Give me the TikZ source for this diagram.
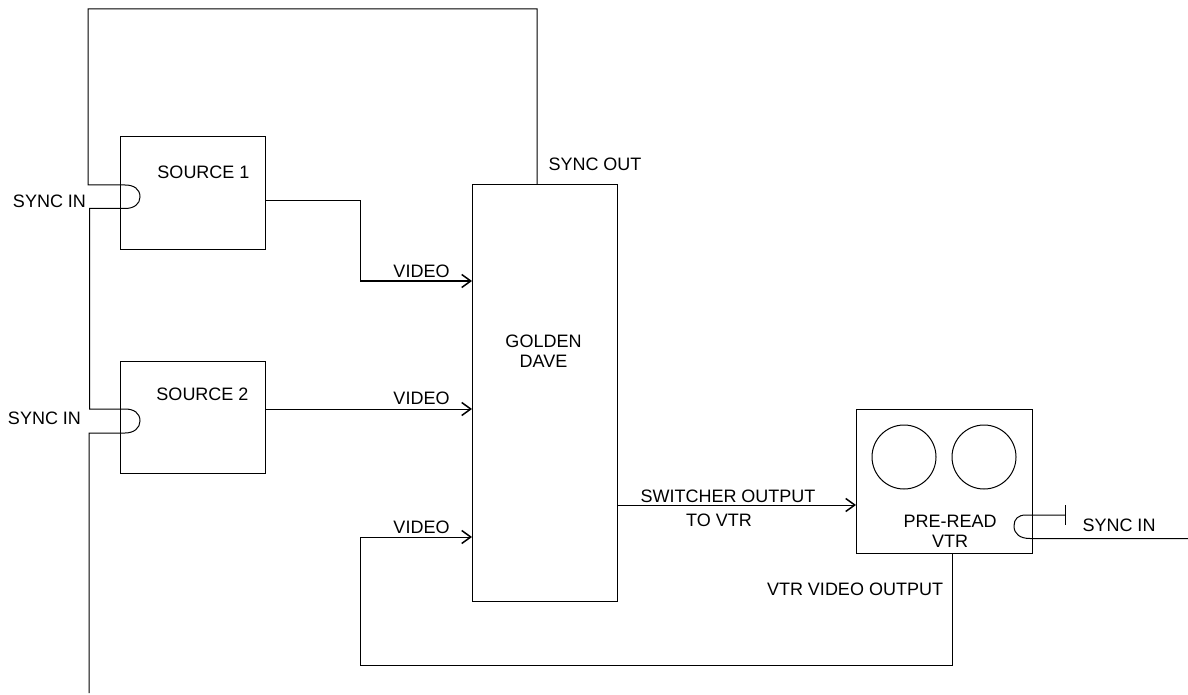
\documentclass[tikz,border=0pt]{standalone}
\usepackage{fontspec}
\setmainfont{Liberation Sans}
\usetikzlibrary{arrows.meta}
\tikzset{
  box/.style={draw=black,line width=1pt,fill=none,inner sep=0pt,outer sep=0pt},
  lbl/.style={font=\fontsize{18pt}{20pt}\selectfont,inner sep=0pt,outer sep=0pt,text=black},
  conn/.style={draw=black,line width=1pt,line join=miter},
  arr/.style={conn,-{Straight Barb[length=9pt,width=13pt,line width=1.5pt]}}
}
\begin{document}
\begin{tikzpicture}[x=1pt,y=-1pt]
\useasboundingbox (0,0) rectangle (1188,695);
% boxes
\node[box,minimum width=144.5pt,minimum height=112pt] (s1) at (192.75,193) {};
\node[box,minimum width=144.5pt,minimum height=112pt] (s2) at (192.75,417) {};
\node[box,minimum width=145pt,minimum height=416pt] (gd) at (544.5,393) {};
\node[box,minimum width=176pt,minimum height=144pt] (vtr) at (944,481) {};
\node[draw=black,line width=1pt,circle,minimum size=64pt,inner sep=0pt,outer sep=0pt] (r1) at (904,457) {};
\node[draw=black,line width=1pt,circle,minimum size=64pt,inner sep=0pt,outer sep=0pt] (r2) at (984,457) {};
% labels
\node[lbl] (t1) at (203.5,172) {SOURCE 1};
\node[lbl] (t2) at (202.5,394.5) {SOURCE 2};
\node[lbl,align=center] (t3) at (543.5,351) {GOLDEN\\[0pt]DAVE};
\node[lbl,align=center] (t4) at (950,531) {PRE-READ\\[0pt]VTR};
\node[lbl] (si1) at (49.5,201) {SYNC IN};
\node[lbl] (si2) at (44.5,418) {SYNC IN};
\node[lbl] (si3) at (1119,525) {SYNC IN};
\node[lbl] (so) at (595,164) {SYNC OUT};
\node[lbl] (v1) at (421.5,271) {VIDEO};
\node[lbl] (v2) at (421.5,398.5) {VIDEO};
\node[lbl] (v3) at (421.5,527) {VIDEO};
\node[lbl] (sw) at (728,496.5) {SWITCHER OUTPUT};
\node[lbl] (tv) at (719,520) {TO VTR};
\node[lbl] (vo) at (855,589) {VTR VIDEO OUTPUT};
% free ends and corners
\coordinate (top1) at (537,9);
\coordinate (top2) at (88,9);
\coordinate (a1) at (88,185);
\coordinate (a2) at (89.5,208.5);
\coordinate (a3) at (89.5,409);
\coordinate (a4) at (89,433);
\coordinate (end) at (89,693);
\coordinate (m1) at (360,201);
\coordinate (m2) at (360,281);
\coordinate (b1) at (952,665);
\coordinate (b2) at (360,665);
\coordinate (b3) at (360,537);
\coordinate (tee) at (1065,515);
\coordinate (right) at (1188,538.5);
% sync chain
\draw[conn] (gd.north -| top1) -- (top1) -- (top2) -- (a1)
  -- (125,185) .. controls (134,185) and (140,189) .. (140,197)
  .. controls (140,204) and (134,208.5) .. (125,208.5) -- (a2)
  -- (a3) -- (125,409) .. controls (134,409) and (140,413) .. (140,421)
  .. controls (140,428) and (134,433) .. (125,433) -- (a4) -- (end);
% video
\draw[conn] (s1.east |- m1) -- (m1) -- (m2);
\draw[arr,line width=1.6pt] (m2) -- (gd.west |- m2);
\draw[arr] (s2.east |- 0,409) -- (gd.west |- 0,409);
\draw[arr] (vtr.south -| b1) -- (b1) -- (b2) -- (b3) -- (gd.west |- b3);
\draw[arr] (gd.east |- 0,505) -- (vtr.west |- 0,505);
% VTR sync
\draw[conn] (tee) -- (1026,515) .. controls (1018,515) and (1014,519) .. (1014,526)
  .. controls (1014,534) and (1020,538.5) .. (1030,538.5) -- (right);
\draw[conn] (1065,505) -- (1065,525);
\end{tikzpicture}
\end{document}
